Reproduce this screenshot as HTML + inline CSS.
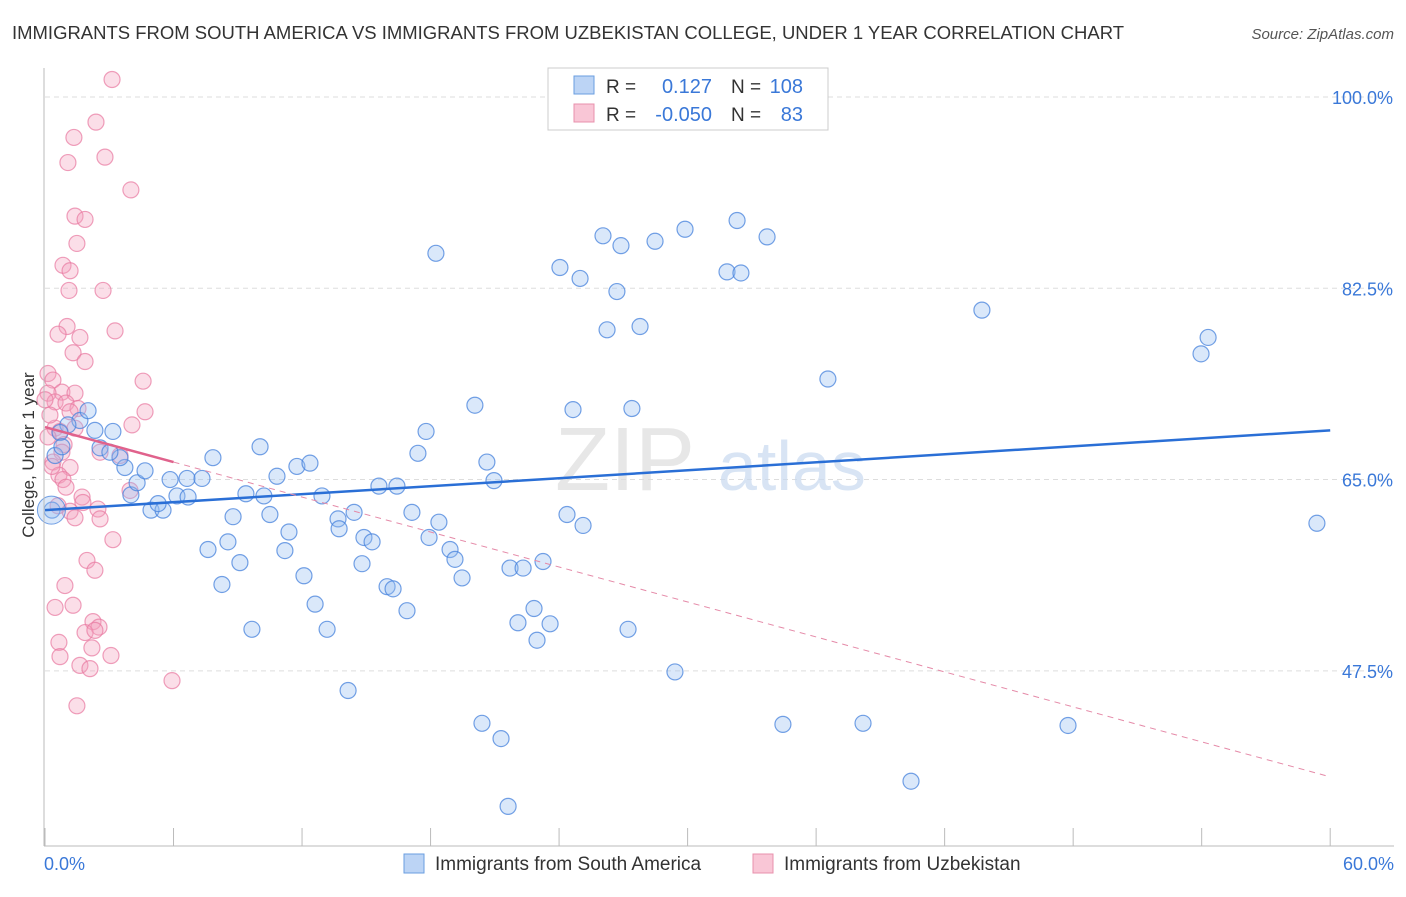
<!DOCTYPE html>
<html><head><meta charset="utf-8"><style>
body{margin:0;background:#fff;font-family:"Liberation Sans",sans-serif;}
svg text{font-family:"Liberation Sans",sans-serif;}
</style></head><body>
<svg id="chart" width="1406" height="892" xmlns="http://www.w3.org/2000/svg">
<text x="12" y="39" font-size="18" fill="#333" textLength="1112" lengthAdjust="spacingAndGlyphs">IMMIGRANTS FROM SOUTH AMERICA VS IMMIGRANTS FROM UZBEKISTAN COLLEGE, UNDER 1 YEAR CORRELATION CHART</text>
<text x="1394" y="39" font-size="15" fill="#555" font-style="italic" text-anchor="end">Source: ZipAtlas.com</text>
<text x="34" y="455" font-size="17" fill="#333" text-anchor="middle" transform="rotate(-90 34 455)">College, Under 1 year</text>
<g id="grid"></g>
<g><text x="555" y="490" font-size="90" fill="#ddd" font-family="Liberation Serif" opacity="0.7">ZIP</text><text x="718" y="490" font-size="70" fill="#c8daf0" opacity="0.7">atlas</text></g>
<g id="pts"></g>
<g id="trends"></g>
<g id="axes"></g>
<g>
<rect x="548" y="68" width="280" height="62" fill="#fff" stroke="#ccc"/>
<rect x="574" y="76" width="20" height="18" fill="#bcd4f5" stroke="#6a9ee0"/>
<rect x="574" y="104" width="20" height="18" fill="#f9c6d6" stroke="#e890ac"/>
<text x="606" y="93" font-size="19" fill="#333">R = </text><text x="712" y="93" font-size="20" fill="#3a78d8" text-anchor="end">0.127</text>
<text x="731" y="93" font-size="19" fill="#333">N = </text><text x="803" y="93" font-size="20" fill="#3a78d8" text-anchor="end">108</text>
<text x="606" y="121" font-size="19" fill="#333">R = </text><text x="712" y="121" font-size="20" fill="#3a78d8" text-anchor="end">-0.050</text>
<text x="731" y="121" font-size="19" fill="#333">N = </text><text x="803" y="121" font-size="20" fill="#3a78d8" text-anchor="end">83</text>
</g>
<g>
<rect x="404" y="854" width="20" height="19" fill="#bcd4f5" stroke="#6a9ee0"/>
<text x="435" y="870" font-size="19" fill="#333">Immigrants from South America</text>
<rect x="753" y="854" width="20" height="19" fill="#f9c6d6" stroke="#e890ac"/>
<text x="784" y="870" font-size="19" fill="#333">Immigrants from Uzbekistan</text>
</g>
</svg>
<script>
const xTicks=[0,60];
const yTicks=[47.5,65,82.5,100];
const yTickLabels=["47.5%","65.0%","82.5%","100.0%"];
const blueX=[18.25,24.04,24.98,26.05,26.89,28.48,29.88,32.31,33.71,31.84,32.49,26.70,26.24,27.78,43.74,54.30,53.97,36.55,20.07,24.65,27.40,17.79,17.41,20.63,20.96,59.38,24.37,25.12,17.13,18.39,17.93,18.91,19.14,19.47,21.71,22.32,23.25,22.83,22.08,23.58,22.97,27.22,29.41,20.40,21.29,34.45,38.19,47.76,40.43,21.62,14.15,13.17,9.66,12.61,16.90,15.97,16.25,14.80,12.09,11.20,8.26,9.10,7.61,8.54,8.78,10.50,11.39,13.68,13.73,14.43,14.89,15.27,12.93,15.59,16.43,10.83,11.76,12.37,10.04,9.38,10.22,7.84,6.63,7.33,5.84,6.16,6.68,4.95,5.51,5.28,4.01,4.30,4.67,3.73,3.50,2.57,3.03,3.17,2.33,1.63,2.01,1.07,0.70,0.33,0.47,0.79,35.25];
const blueY=[85.7,84.4,83.4,87.3,86.4,86.8,87.9,88.7,87.2,84.0,83.9,82.2,78.7,79.0,80.5,78.0,76.5,74.2,71.8,71.4,71.5,69.4,67.4,66.6,64.9,61.0,61.8,60.8,62.0,61.1,59.7,58.6,57.7,56.0,56.9,56.9,57.5,53.2,51.9,51.8,50.3,51.3,47.4,42.7,41.3,42.6,42.7,42.5,37.4,35.1,45.7,51.3,51.3,53.6,53.0,55.2,55.0,57.3,56.2,58.5,55.4,57.4,58.6,59.3,61.6,61.8,60.2,61.4,60.5,62.0,59.7,59.3,63.5,64.4,64.4,65.3,66.2,66.5,68.0,63.7,63.5,67.0,65.1,65.1,65.0,63.5,63.4,62.2,62.2,62.8,63.6,64.7,65.8,66.1,67.0,67.9,67.5,69.4,69.5,70.4,71.3,70.0,69.3,62.2,67.2,68.0,101.6];
const pinkX=[3.13,2.38,1.35,2.80,1.07,4.01,1.40,1.87,1.49,0.84,1.17,1.12,2.71,1.03,0.61,1.63,3.27,1.31,1.87,4.58,0.14,0.37,0.79,1.40,0.14,0.47,0.98,1.54,1.17,4.67,4.06,0.47,0.70,0.14,1.40,0.89,2.57,0.79,1.17,0.37,0.65,0.84,0.98,1.73,1.77,0.61,1.17,2.47,1.40,2.57,3.17,1.96,2.33,0.93,0.47,1.31,2.24,2.52,1.87,2.33,0.65,2.19,3.08,0.70,1.63,2.10,5.93,1.49,0.33,3.97,3.50,0.23,0.0];
const pinkY=[101.6,97.7,96.3,94.5,94.0,91.5,89.1,88.8,86.6,84.6,84.1,82.3,82.3,79.0,78.3,78.0,78.6,76.6,75.8,74.0,74.7,74.1,73.0,72.9,72.9,72.1,72.0,71.5,71.2,71.2,70.0,69.7,69.4,68.9,69.7,68.2,67.5,67.5,66.1,66.6,65.4,65.0,64.3,63.4,62.9,62.6,62.1,62.3,61.5,61.4,59.5,57.6,56.7,55.3,53.3,53.5,52.0,51.5,51.0,51.2,50.1,49.6,48.9,48.8,48.0,47.7,46.6,44.3,66.2,64.0,67.2,70.9,72.3];
const X=v=>45+v*21.42, Y=v=>97+(100-v)*10.93;
const NS="http://www.w3.org/2000/svg";
function mk(t,a,p){const e=document.createElementNS(NS,t);for(const k in a)e.setAttribute(k,a[k]);p.appendChild(e);return e;}
const grid=document.getElementById('grid'),axes=document.getElementById('axes'),pts=document.getElementById('pts'),tr=document.getElementById('trends');
yTicks.forEach((t,i)=>{
 const l=mk('line',{x1:45,x2:1394,y1:Y(t),y2:Y(t),stroke:'#ddd','stroke-dasharray':'5,4'},grid);
 
 
 const tx=mk('text',{x:1393,y:Y(t)+7,'font-size':18,fill:'#3a78d8','text-anchor':'end'},axes);tx.textContent=yTickLabels[i];
 
 
});
mk('line',{x1:44,x2:44,y1:68,y2:846,stroke:'#bbb'},axes);
mk('line',{x1:44,x2:1394,y1:846,y2:846,stroke:'#bbb'},axes);
for(let i=0;i<=10;i++){mk('line',{x1:X(i*6),x2:X(i*6),y1:828,y2:846,stroke:'#bbb'},axes);}
const xl=mk('text',{x:44,y:870,'font-size':18,fill:'#3a78d8'},axes);xl.textContent=xTicks[0].toFixed(1)+"%";


const xr=mk('text',{x:1394,y:870,'font-size':18,fill:'#3a78d8','text-anchor':'end'},axes);xr.textContent=xTicks[1].toFixed(1)+"%";


pinkX.forEach((x,i)=>{const c=mk('circle',{cx:X(x),cy:Y(pinkY[i]),r:8,fill:'rgba(244,160,190,0.35)',stroke:'rgba(232,120,160,0.7)','stroke-width':1.2},pts);
 
 });
blueX.forEach((x,i)=>{const c=mk('circle',{cx:X(x),cy:Y(blueY[i]),r:8,fill:'rgba(150,190,240,0.35)',stroke:'rgba(70,130,220,0.75)','stroke-width':1.2},pts);
 
 });
mk('circle',{cx:X(0.3),cy:Y(62.2),r:14,fill:'rgba(150,190,240,0.35)',stroke:'rgba(70,130,220,0.75)'},pts);
const b=mk('line',{x1:X(0),y1:Y(62.2),x2:X(60),y2:Y(69.5),stroke:'#2a6fd6','stroke-width':2.5},tr);


const pd=mk('line',{x1:X(6),y1:Y(66.6),x2:X(60),y2:Y(37.8),stroke:'#e58aa8','stroke-width':1,'stroke-dasharray':'6,5'},tr);


const ps=mk('line',{x1:X(0),y1:Y(69.8),x2:X(6),y2:Y(66.6),stroke:'#e0628c','stroke-width':2.5},tr);


</script>
</body></html>
